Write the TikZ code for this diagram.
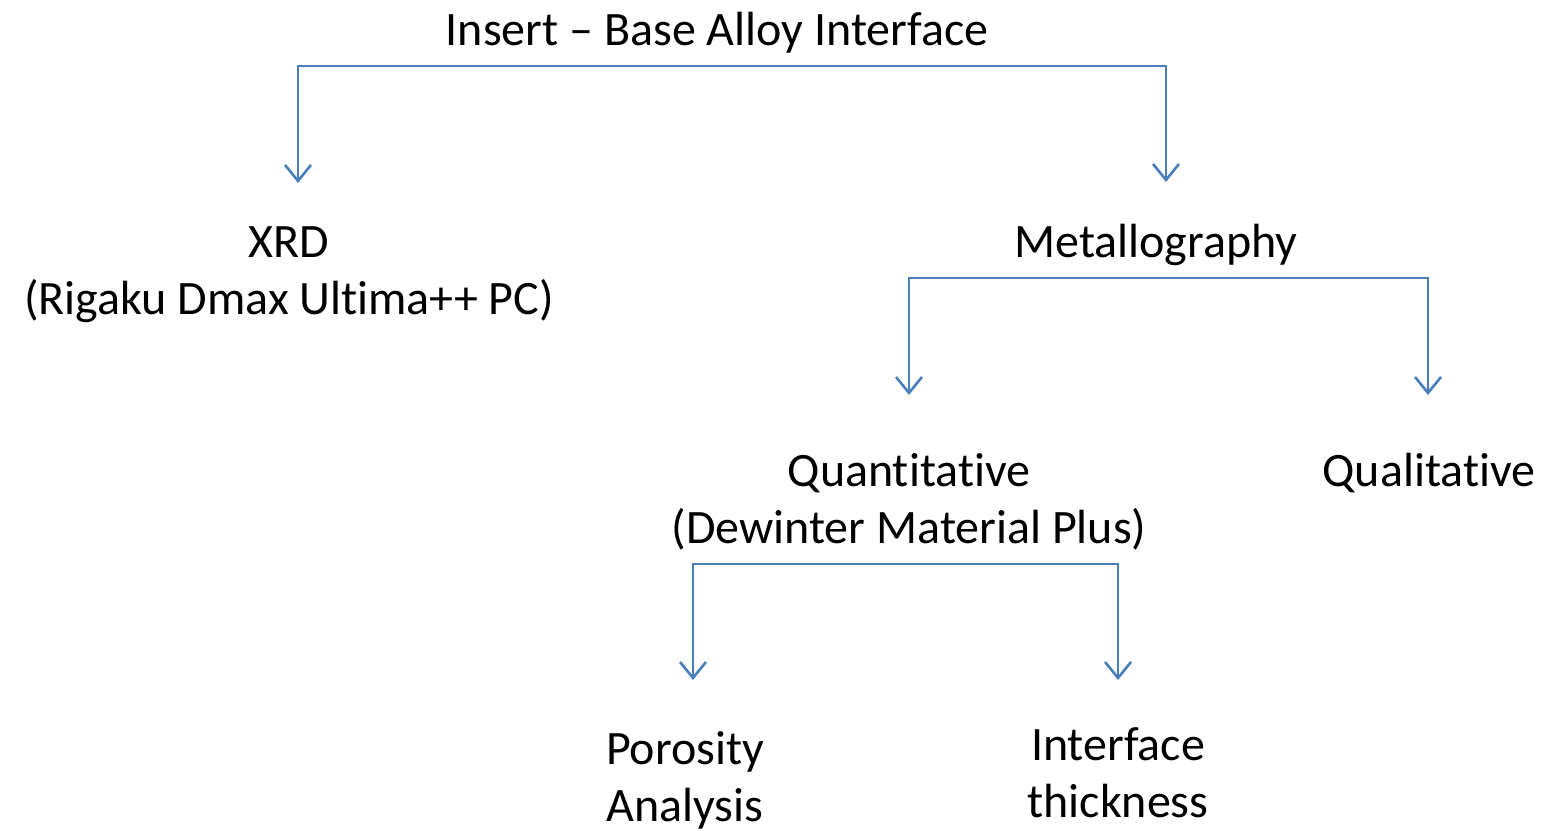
\documentclass[tikz,border=0pt]{standalone}
\usepackage{fontspec}
\setmainfont{Carlito}[RawFeature=-liga]
\usetikzlibrary{arrows.meta}

\begin{document}
\begin{tikzpicture}[x=1pt, y=-1pt, >={Straight Barb[length=16pt, width=26pt, line width=2.6pt]},
  lbl/.style={align=center, inner sep=0pt, anchor=base, font=\fontsize{48}{57}\selectfont},
  link/.style={draw=linkblue, line width=2.6pt}]
\definecolor{linkblue}{HTML}{4A7EBB}
\useasboundingbox (0,0) rectangle (1541,830);
% labels (anchor = baseline of last line)
\node[lbl] (root)  at (717,45)  {Insert -- Base Alloy Interface};
\node[lbl] (xrd)   at (289,314) {XRD\\(Rigaku Dmax Ultima++ PC)};
\node[lbl] (meta)  at (1156,257) {Metallography};
\node[lbl] (quant) at (909,543) {Quantitative\\(Dewinter Material Plus)};
\node[lbl] (qual)  at (1429,486) {Qualitative};
\node[lbl] (poro)  at (685,821) {Porosity\\Analysis};
\node[lbl] (thick) at (1118,817) {Interface\\thickness};
% arrow ends
\coordinate (xrd-in)   at (298,183);
\coordinate (meta-in)  at (1166,182);
\coordinate (quant-in) at (909,395);
\coordinate (qual-in)  at (1428,395);
\coordinate (poro-in)  at (693,680);
\coordinate (thick-in) at (1118,680);
% branches
\draw[link, <->] (xrd-in) |- (1166,66) -- (meta-in);
\draw[link, <->] (quant-in) |- (1428,278) -- (qual-in);
\draw[link, <->] (poro-in) |- (1118,564) -- (thick-in);
\end{tikzpicture}
\end{document}
